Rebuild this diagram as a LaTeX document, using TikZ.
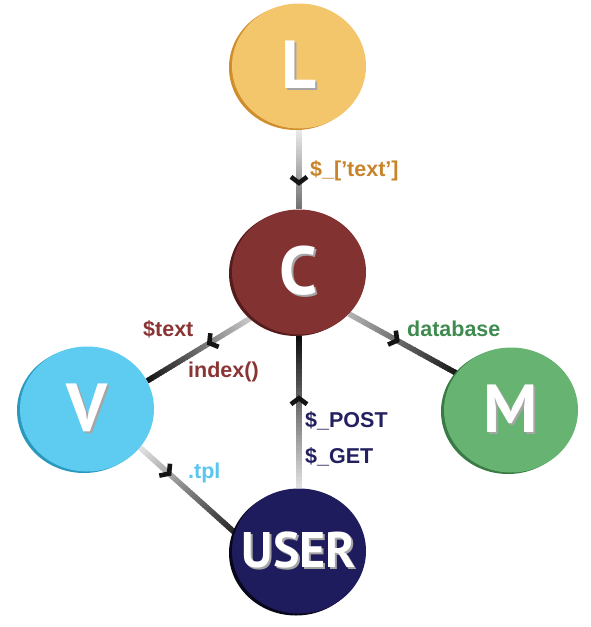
\documentclass[tikz,border=0pt]{standalone}
\usepackage{fontspec}
\setmainfont{Liberation Sans}
\newfontfamily\letterfont{PT Sans}
\usetikzlibrary{shapes.geometric,calc,decorations.markings,shadows}
\pgfdeclarelayer{background}
\pgfsetlayers{background,main}
\definecolor{Lfill}{HTML}{F3C66B}
\definecolor{Lshad}{HTML}{CF8E2C}
\definecolor{Cfill}{HTML}{833232}
\definecolor{Cshad}{HTML}{561C1C}
\definecolor{Vfill}{HTML}{5ECBF0}
\definecolor{Vshad}{HTML}{2B98BE}
\definecolor{Mfill}{HTML}{66B372}
\definecolor{Mshad}{HTML}{3A7A45}
\definecolor{Ufill}{HTML}{1F1C5E}
\definecolor{Ushad}{HTML}{08081C}
\definecolor{Ltxt}{HTML}{C8842B}
\definecolor{Ctxt}{HTML}{8B3434}
\definecolor{Mtxt}{HTML}{3F8B4F}
\definecolor{Utxt}{HTML}{23205F}
\definecolor{Vtxt}{HTML}{5AC6EE}
\newcommand\emb[1]{\makebox[0pt][l]{\hspace*{2pt}\raisebox{-2pt}{\textcolor{black!35}{#1}}}#1}
\newcommand\gradconn[4]{%
  \foreach \i in {0,...,39}{%
    \pgfmathsetmacro\ta{\i/40}%
    \pgfmathsetmacro\tb{min(1,(\i+1.4)/40)}%
    \pgfmathsetmacro\pc{#3+(#4-#3)*\i/39}%
    \draw[connline, draw=black!\pc] ($(#1)!\ta!(#2)$) -- ($(#1)!\tb!(#2)$);
  }}
\newcommand\chev[3]{%
  \path[decorate, decoration={markings, mark=at position #3 with {\draw[chevron] (-5,8)--(1,0)--(-5,-8);}}] (#1) -- (#2);}
\tikzset{
  ball/.style={ellipse, minimum width=134pt, minimum height=125pt, inner sep=0pt},
  lettertext/.style={text=white, inner sep=0pt, font=\letterfont\bfseries\fontsize{68}{68}\selectfont},
  usertext/.style={text=white, inner sep=0pt, font=\letterfont\bfseries\fontsize{50}{50}\selectfont},
  connline/.style={line width=5.5pt, line cap=butt},
  chevron/.style={line width=4.6pt, line join=miter, line cap=butt, draw=black!92},
  lbl/.style={inner sep=0pt, anchor=base west, font=\bfseries\fontsize{21.5}{24}\selectfont}
}
\begin{document}
\begin{tikzpicture}[x=1pt,y=1pt]
\useasboundingbox (0,0) rectangle (590,-627);
% circles
\node[ball, fill=Lfill, drop shadow={shadow xshift=-3pt, shadow yshift=-1.5pt, fill=Lshad, opacity=1},
      label={[lettertext]center:\emb{L}}] (L) at (299,-66) {};
\node[ball, fill=Cfill, drop shadow={shadow xshift=-3pt, shadow yshift=-1.5pt, fill=Cshad, opacity=1},
      label={[lettertext]center:\emb{C}}] (C) at (299,-272) {};
\node[ball, fill=Vfill, drop shadow={shadow xshift=-3pt, shadow yshift=-1.5pt, fill=Vshad, opacity=1},
      label={[lettertext]center:\emb{V}}] (V) at (87,-409) {};
\node[ball, fill=Mfill, drop shadow={shadow xshift=-3pt, shadow yshift=-1.5pt, fill=Mshad, opacity=1},
      label={[lettertext]center:\emb{M}}] (M) at (511,-410) {};
\node[ball, fill=Ufill, drop shadow={shadow xshift=-3pt, shadow yshift=-2pt, fill=Ushad, opacity=1},
      label={[usertext]center:\emb{USER}}] (U) at (299,-551) {};
% connectors
\begin{pgfonlayer}{background}
\gradconn{L.south}{C.north}{8}{55}
\gradconn{C.224}{V.25}{20}{92}
\gradconn{C.320}{M.146}{30}{90}
\gradconn{U.north}{C.south}{12}{95}
\gradconn{V.324}{U.164}{12}{85}
\end{pgfonlayer}
% arrowheads
\chev{L.south}{C.north}{0.66}
\chev{C.224}{V.25}{0.40}
\chev{C.320}{M.146}{0.44}
\chev{U.north}{C.south}{0.58}
\chev{V.324}{U.164}{0.30}
% labels
\node[lbl, text=Ltxt] (tL) at (310,-176) {\$\_[’text’]};
\node[lbl, text=Ctxt] (tC1) at (143,-336) {\$text};
\node[lbl, text=Ctxt] (tC2) at (188,-377) {index()};
\node[lbl, text=Mtxt] (tM) at (407,-336) {database};
\node[lbl, text=Utxt] (tU1) at (305,-427) {\$\_POST};
\node[lbl, text=Utxt] (tU2) at (305,-463) {\$\_GET};
\node[lbl, text=Vtxt] (tV) at (188,-478) {.tpl};
\end{tikzpicture}
\end{document}
